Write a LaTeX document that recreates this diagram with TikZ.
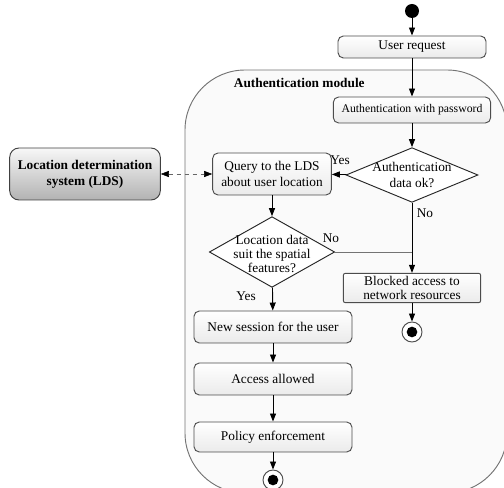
\documentclass[tikz,border=0pt]{standalone}
\usepackage{fontspec}
\setmainfont{Liberation Serif}
\usetikzlibrary{arrows.meta, shapes.geometric, positioning}

\begin{document}
\begin{tikzpicture}[x=0.75pt, y=-0.75pt, line width=0.7pt,
    font=\fontsize{10}{12.5}\selectfont,
    box/.style={draw=black!70, rounded corners=4pt, top color=white, bottom color=black!8, align=center, inner sep=1pt},
    decision/.style={draw=black!85, diamond, fill=white, inner sep=0pt},
    dtext/.style={align=center, font=\fontsize{10}{10.5}\selectfont},
    arr/.style={-{Triangle[length=6pt, width=4.5pt]}},
    enddot/.style={circle, draw=black!70, fill=white, minimum size=15pt, inner sep=0pt,
      path picture={\fill[black] (path picture bounding box.center) circle (4pt);}}]
  \useasboundingbox (0,0) rectangle (504,488);
  % module frame
  \begin{scope}
    \clip (0,0) rectangle (504,488);
    \draw[draw=black!55, fill=black!2, rounded corners=45pt] (185,70) rectangle (507,493);
  \end{scope}
  \node[font=\bfseries, anchor=west] (modtitle) at (229,83) {Authentication module};
  % nodes
  \node[circle, fill=black, minimum size=10.5pt, inner sep=0pt] (start) at (412,11) {};
  \node[box, minimum width=111pt, minimum height=16.5pt] (request) at (412,47) {User request};
  \node[box, font=\fontsize{8.8}{10}\selectfont, minimum width=118pt, minimum height=19.5pt] (password) at (412,110) {Authentication with password};
  \node[decision, minimum width=99pt, minimum height=41pt] (authok) at (412,175) {};
  \node[dtext, font=\fontsize{10}{12}\selectfont] (authoktext) at (authok) {Authentication\\data ok?};
  \node[box, minimum width=89pt, minimum height=31.5pt] (query) at (272,174) {Query to the LDS\\about user location};
  \node[box, font=\bfseries, minimum width=113pt, minimum height=39pt, rounded corners=7pt,
    draw=black!75, top color=black!3, bottom color=black!30] (lds) at (85,174) {Location determination\\system (LDS)};
  \node[decision, minimum width=94pt, minimum height=53pt] (suits) at (272,252) {};
  \node[dtext] (suitstext) at ([yshift=-1.5pt]suits.center) {Location data\\suit the spatial\\features?};
  \node[box, rounded corners=1.5pt, minimum width=103pt, minimum height=22pt, font=\fontsize{10}{11}\selectfont] (blocked) at (412,288) {Blocked access to\\network resources};
  \node[enddot] (endblocked) at (412,332) {};
  \node[box, minimum width=118.5pt, minimum height=24pt] (session) at (273,327) {New session for the user};
  \node[box, minimum width=118.5pt, minimum height=24pt] (allowed) at (273,379) {Access allowed};
  \node[box, minimum width=118.5pt, minimum height=22.5pt] (policy) at (273,437) {Policy enforcement};
  \node[enddot] (endpolicy) at (273,480) {};
  % labels
  \node (yesauth) at (340,160) {Yes};
  \node (noauth) at (425,213) {No};
  \node (nosuits) at (331,238) {No};
  \node (yessuits) at (246,296) {Yes};
  % connectors
  \draw[arr] (start) -- (request);
  \draw[arr] (request) -- (password);
  \draw[arr] (password) -- (authok);
  \draw[arr] (authok) -- (query);
  \draw[arr] (authok) -- (blocked);
  \draw[arr] (query) -- (suits);
  \coordinate (join) at (suits.east -| blocked);
  \draw[black!55] (suits.east) -- (join);
  \draw[arr] (blocked) -- (endblocked);
  \draw[arr] (suits) -- (session);
  \draw[arr] (session) -- (allowed);
  \draw[arr] (allowed) -- (policy);
  \draw[arr] (policy) -- (endpolicy);
  \draw[black!60, line width=0.4pt, dashed, {Triangle[length=6pt, width=4.5pt, color=black]}-{Triangle[length=6pt, width=4.5pt, color=black]}] (lds) -- (query);
\end{tikzpicture}
\end{document}
